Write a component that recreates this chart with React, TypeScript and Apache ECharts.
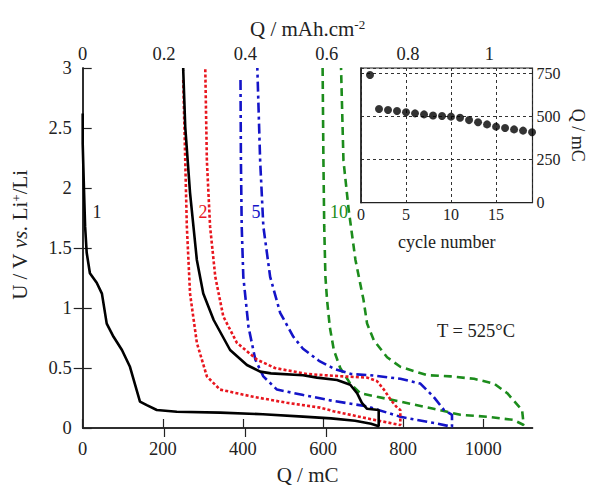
import React, { useEffect, useRef } from "react";
import * as echarts from "echarts";

const FONT = '"Liberation Serif", "Times New Roman", serif';

// Cycle 1 (black, solid): discharge then charge branch
const cycle1Q = [0, 0, 3, 6, 10, 18, 35, 48, 60, 77, 98, 118, 143, 160, 185, 235, 343, 450, 550, 620, 680, 720, 739, 739, 710, 697, 685, 668, 635, 585, 550, 470, 443, 410, 368, 327, 301, 285, 268, 256, 251, 251];
const cycle1U = [2.62, 2.37, 2.01, 1.68, 1.46, 1.29, 1.21, 1.12, 0.87, 0.76, 0.65, 0.51, 0.22, 0.19, 0.15, 0.136, 0.128, 0.115, 0.095, 0.08, 0.06, 0.035, 0.015, 0.15, 0.16, 0.21, 0.29, 0.36, 0.4, 0.42, 0.44, 0.455, 0.47, 0.525, 0.65, 0.9, 1.12, 1.4, 1.96, 2.51, 2.98, 3.0];

// Cycle 2 (red, dotted)
const cycle2Q = [251, 256, 260, 268, 285, 310, 343, 426, 510, 593, 626, 710, 793, 793, 785, 770, 752, 735, 710, 650, 560, 480, 435, 385, 351, 331, 318, 310, 306];
const cycle2U = [2.9, 2.23, 1.68, 1.12, 0.71, 0.43, 0.32, 0.26, 0.21, 0.17, 0.14, 0.08, 0.025, 0.15, 0.17, 0.23, 0.32, 0.39, 0.42, 0.43, 0.45, 0.5, 0.57, 0.71, 0.93, 1.26, 1.68, 2.23, 3.0];

// Cycle 5 (blue, dash-dot)
const cycle5Q = [394, 395, 397, 401, 414, 431, 451, 485, 551, 618, 710, 793, 835, 880, 922, 922, 902, 876, 843, 793, 718, 670, 630, 590, 550, 526, 493, 468, 451, 443, 436];
const cycle5U = [2.9, 2.23, 1.68, 1.26, 0.84, 0.57, 0.43, 0.32, 0.275, 0.23, 0.18, 0.094, 0.067, 0.04, 0.01, 0.11, 0.15, 0.26, 0.37, 0.41, 0.44, 0.45, 0.49, 0.56, 0.66, 0.76, 0.96, 1.26, 1.68, 2.23, 3.0];

// Cycle 10 (green, dashed)
const cycle10Q = [599, 601, 603, 606, 610, 617, 627, 643, 668, 693, 735, 793, 876, 943, 1010, 1076, 1101, 1097, 1060, 1027, 977, 918, 860, 793, 760, 727, 710, 701, 681, 664, 651, 645];
const cycle10U = [3.0, 2.23, 1.68, 1.26, 1.07, 0.84, 0.65, 0.5, 0.37, 0.29, 0.26, 0.22, 0.16, 0.11, 0.094, 0.067, 0.025, 0.15, 0.29, 0.37, 0.41, 0.43, 0.44, 0.51, 0.59, 0.73, 0.87, 1.07, 1.4, 1.82, 2.23, 3.0];

// Inset: capacity vs cycle number
const insetCycle = [1, 2, 3, 4, 5, 6, 7, 8, 9, 10, 11, 12, 13, 14, 15, 16, 17, 18, 19];
const insetCharge = [740, 543, 537, 532, 524, 518, 512, 506, 503, 499, 493, 479, 466, 454, 441, 433, 425, 418, 408];

// Tick values
const bottomTicks = [0, 200, 400, 600, 800, 1000];
const topTicks = [0, 0.2, 0.4, 0.6, 0.8, 1];
const topTickMarks = [0.2, 0.4, 0.6];
const leftTicks = [0, 0.5, 1, 1.5, 2, 2.5, 3];
const rightTickMarks = [0.5, 1, 1.5];
const insetXTicks = [0, 5, 10, 15];
const insetYTicks = [0, 250, 500, 750];

const zip = (a: number[], b: number[]) => a.map((v, i) => [v, b[i]]);
const plain = (v: number) => String(+v.toFixed(6));

const AX = "#222";

export default function App() {
  const ref = useRef<HTMLDivElement>(null);
  useEffect(() => {
    const chart = echarts.init(ref.current!, null, { renderer: "svg" });
    const tickLabel = { fontFamily: FONT, fontSize: 18.5, color: "#222", formatter: plain };
    const option: any = {
      animation: false,
      backgroundColor: "#fff",
      grid: [
        { left: 82.7, right: 56.5, top: 68, bottom: 58, outerBoundsMode: "none", containLabel: false },
        {
          left: 361, right: 56.5, top: 68, bottom: 283.3, outerBoundsMode: "none", containLabel: false,
          show: true, backgroundColor: "#fff", borderColor: AX, borderWidth: 1.2,
        },
      ],
      xAxis: [
        {
          type: "value", gridIndex: 0, min: 0, max: 1123, interval: 200,
          name: "Q / mC", nameLocation: "middle", nameGap: 36,
          nameTextStyle: { fontFamily: FONT, fontSize: 21, color: "#222" },
          axisLine: { show: true, lineStyle: { color: AX, width: 1.5 } },
          axisTick: { show: true, inside: true, length: 9, lineStyle: { color: AX, width: 1.2 }, customValues: bottomTicks },
          axisLabel: { ...tickLabel, margin: 11, customValues: bottomTicks },
          splitLine: { show: false },
        },
        {
          type: "value", gridIndex: 0, position: "top", min: 0, max: 1.106, interval: 0.2,
          name: "Q / mAh.cm{sup|-2}", nameLocation: "middle", nameGap: 27,
          nameTextStyle: {
            fontFamily: FONT, fontSize: 21, color: "#222",
            rich: { sup: { fontFamily: FONT, fontSize: 13, color: "#222", verticalAlign: "top", lineHeight: 13 } },
          },
          axisLine: { show: true, lineStyle: { color: AX, width: 1.5 } },
          axisTick: { show: true, inside: true, length: 9, lineStyle: { color: AX, width: 1.2 }, customValues: topTickMarks },
          axisLabel: { ...tickLabel, margin: 5, customValues: topTicks },
          splitLine: { show: false },
        },
        {
          type: "value", gridIndex: 1, min: 0, max: 19.05, interval: 5,
          name: "cycle number", nameLocation: "middle", nameGap: 30,
          nameTextStyle: { fontFamily: FONT, fontSize: 18, color: "#222" },
          axisLine: { show: true, lineStyle: { color: AX, width: 1.2 } },
          axisTick: { show: false },
          axisLabel: { fontFamily: FONT, fontSize: 16, color: "#222", margin: 4, customValues: insetXTicks, formatter: plain },
          splitLine: { show: true, lineStyle: { color: "#333", width: 1, type: [3, 3] } },
        },
      ],
      yAxis: [
        {
          type: "value", gridIndex: 0, min: 0, max: 3, interval: 0.5,
          name: "U / V {it|vs.} Li{sup|+}/Li", nameLocation: "middle", nameGap: 52,
          nameTextStyle: {
            fontFamily: FONT, fontSize: 21, color: "#222", padding: [0, 0, 0, 26],
            rich: {
              it: { fontFamily: FONT, fontSize: 21, fontStyle: "italic", color: "#222" },
              sup: { fontFamily: FONT, fontSize: 13, color: "#222", verticalAlign: "top", lineHeight: 13 },
            },
          },
          axisLine: { show: true, lineStyle: { color: AX, width: 1.5 } },
          axisTick: { show: true, inside: true, length: 9, lineStyle: { color: AX, width: 1.2 }, customValues: leftTicks },
          axisLabel: { ...tickLabel, margin: 11, customValues: leftTicks },
          splitLine: { show: false },
        },
        {
          type: "value", gridIndex: 0, position: "right", min: 0, max: 3, interval: 0.5,
          axisLine: { show: true, lineStyle: { color: AX, width: 1.5 } },
          axisTick: { show: true, inside: true, length: 9, lineStyle: { color: AX, width: 1.2 }, customValues: rightTickMarks },
          axisLabel: { show: false },
          splitLine: { show: false },
        },
        {
          type: "value", gridIndex: 1, position: "right", min: 0, max: 781, interval: 250,
          name: "Q / mC", nameLocation: "middle", nameGap: 36, nameRotate: -90,
          nameTextStyle: { fontFamily: FONT, fontSize: 18, color: "#222" },
          axisLine: { show: true, lineStyle: { color: AX, width: 1.5 } },
          axisTick: { show: false },
          axisLabel: { fontFamily: FONT, fontSize: 16, color: "#222", margin: 4, customValues: insetYTicks, formatter: plain },
          splitLine: { show: true, lineStyle: { color: "#333", width: 1, type: [3, 3] } },
        },
      ],
      series: [
        {
          name: "1", type: "line", xAxisIndex: 0, yAxisIndex: 0, data: zip(cycle1Q, cycle1U),
          showSymbol: false, symbol: "none", lineStyle: { color: "#000", width: 2.6 }, z: 5,
        },
        {
          name: "2", type: "line", xAxisIndex: 0, yAxisIndex: 0, data: zip(cycle2Q, cycle2U),
          showSymbol: false, symbol: "none", lineStyle: { color: "#e8161e", width: 2.6, type: [3, 2.2] }, z: 4,
        },
        {
          name: "5", type: "line", xAxisIndex: 0, yAxisIndex: 0, data: zip(cycle5Q, cycle5U),
          showSymbol: false, symbol: "none", lineStyle: { color: "#1414c8", width: 2.6, type: [10, 4, 3, 4] }, z: 3,
        },
        {
          name: "10", type: "line", xAxisIndex: 0, yAxisIndex: 0, data: zip(cycle10Q, cycle10U),
          showSymbol: false, symbol: "none", lineStyle: { color: "#1c8c1c", width: 2.6, type: [8, 5] }, z: 2,
        },
        {
          name: "inset", type: "scatter", xAxisIndex: 2, yAxisIndex: 2, data: zip(insetCycle, insetCharge),
          symbol: "circle", symbolSize: 8, itemStyle: { color: "#000" }, z: 6,
        },
      ],
      graphic: [
        { type: "text", x: 97, y: 212, style: { text: "1", fontFamily: FONT, fontSize: 18, fill: "#222", align: "center", verticalAlign: "middle" } },
        { type: "text", x: 203, y: 212, style: { text: "2", fontFamily: FONT, fontSize: 18, fill: "#e8161e", align: "center", verticalAlign: "middle" } },
        { type: "text", x: 256, y: 212, style: { text: "5", fontFamily: FONT, fontSize: 18, fill: "#1414c8", align: "center", verticalAlign: "middle" } },
        { type: "text", x: 339, y: 212, style: { text: "10", fontFamily: FONT, fontSize: 18, fill: "#1c8c1c", align: "center", verticalAlign: "middle" } },
        { type: "text", x: 476, y: 331, style: { text: "T = 525°C", fontFamily: FONT, fontSize: 18.5, fill: "#222", align: "center", verticalAlign: "middle" } },
      ],
    };
    chart.setOption(option);
    return () => chart.dispose();
  }, []);
  return <div ref={ref} style={{ position: "fixed", left: 0, top: 0, width: 589, height: 486 }} />;
}
